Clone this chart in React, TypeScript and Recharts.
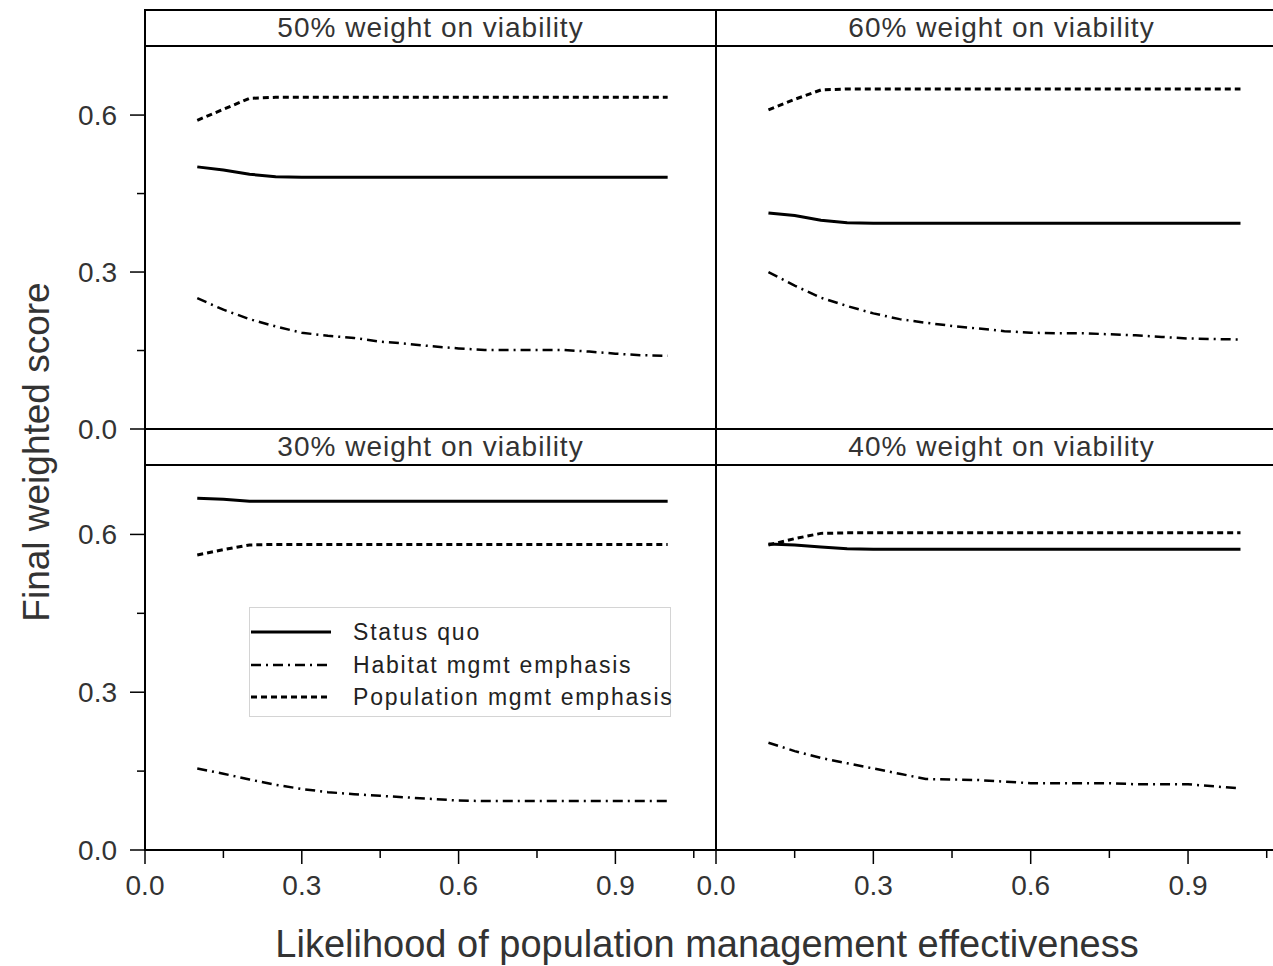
import React from 'react';
import { LineChart, Line, XAxis, YAxis, Legend } from 'recharts';

const xValues = [0.1, 0.15, 0.2, 0.25, 0.3, 0.35, 0.4, 0.45, 0.5, 0.55, 0.6, 0.65, 0.7, 0.75, 0.8, 0.85, 0.9, 0.95, 1.0];

// 50% weight on viability
const status50 = [0.501, 0.495, 0.487, 0.482, 0.481, 0.481, 0.481, 0.481, 0.481, 0.481, 0.481, 0.481, 0.481, 0.481, 0.481, 0.481, 0.481, 0.481, 0.481];
const habitat50 = [0.25, 0.228, 0.21, 0.196, 0.184, 0.178, 0.174, 0.167, 0.163, 0.158, 0.154, 0.151, 0.151, 0.151, 0.151, 0.148, 0.144, 0.141, 0.14];
const population50 = [0.59, 0.611, 0.632, 0.634, 0.634, 0.634, 0.634, 0.634, 0.634, 0.634, 0.634, 0.634, 0.634, 0.634, 0.634, 0.634, 0.634, 0.634, 0.634];

// 60% weight on viability
const status60 = [0.413, 0.408, 0.399, 0.394, 0.393, 0.393, 0.393, 0.393, 0.393, 0.393, 0.393, 0.393, 0.393, 0.393, 0.393, 0.393, 0.393, 0.393, 0.393];
const habitat60 = [0.3, 0.274, 0.251, 0.235, 0.221, 0.21, 0.203, 0.197, 0.192, 0.187, 0.184, 0.183, 0.183, 0.181, 0.179, 0.176, 0.173, 0.172, 0.171];
const population60 = [0.61, 0.63, 0.648, 0.65, 0.65, 0.65, 0.65, 0.65, 0.65, 0.65, 0.65, 0.65, 0.65, 0.65, 0.65, 0.65, 0.65, 0.65, 0.65];

// 30% weight on viability
const status30 = [0.669, 0.667, 0.663, 0.663, 0.663, 0.663, 0.663, 0.663, 0.663, 0.663, 0.663, 0.663, 0.663, 0.663, 0.663, 0.663, 0.663, 0.663, 0.663];
const habitat30 = [0.155, 0.145, 0.134, 0.124, 0.116, 0.11, 0.106, 0.103, 0.1, 0.097, 0.094, 0.093, 0.093, 0.093, 0.093, 0.093, 0.093, 0.093, 0.093];
const population30 = [0.561, 0.571, 0.58, 0.581, 0.581, 0.581, 0.581, 0.581, 0.581, 0.581, 0.581, 0.581, 0.581, 0.581, 0.581, 0.581, 0.581, 0.581, 0.581];

// 40% weight on viability
const status40 = [0.582, 0.58, 0.576, 0.573, 0.572, 0.572, 0.572, 0.572, 0.572, 0.572, 0.572, 0.572, 0.572, 0.572, 0.572, 0.572, 0.572, 0.572, 0.572];
const habitat40 = [0.204, 0.188, 0.175, 0.165, 0.155, 0.145, 0.135, 0.134, 0.133, 0.13, 0.127, 0.127, 0.127, 0.127, 0.125, 0.125, 0.125, 0.121, 0.117];
const population40 = [0.58, 0.592, 0.602, 0.603, 0.603, 0.603, 0.603, 0.603, 0.603, 0.603, 0.603, 0.603, 0.603, 0.603, 0.603, 0.603, 0.603, 0.603, 0.603];

const panelTitles = ['50% weight on viability', '60% weight on viability', '30% weight on viability', '40% weight on viability'];
const seriesNames = ['Status quo', 'Habitat mgmt emphasis', 'Population mgmt emphasis'];
const xMajorTicks = [0, 0.3, 0.6, 0.9];
const xAllTicks = [0, 0.15, 0.3, 0.45, 0.6, 0.75, 0.9, 1.05];
const yMajorTicks = [0, 0.3, 0.6];
const yAllTicks = [0, 0.15, 0.3, 0.45, 0.6];
const xTitle = 'Likelihood of population management effectiveness';
const yTitle = 'Final weighted score';

const X_DOMAIN: [number, number] = [0, 1.0925];
const Y_DOMAIN: [number, number] = [0, 0.732];
const FONT = '"Liberation Sans", Arial, sans-serif';
const TEXT = '#333';

const DASH_STATUS = undefined;
const DASH_HABITAT = '10 5 2 5';
const DASH_POP = '6 4';
const seriesDash = [DASH_STATUS, DASH_HABITAT, DASH_POP];
const seriesWidth = [3, 2.5, 3];

function buildRows(status: number[], habitat: number[], population: number[]) {
  return xValues.map((x, i) => ({ x, status: status[i], habitat: habitat[i], population: population[i] }));
}

const isMajor = (v: number, list: number[]) => list.some((m) => Math.abs(m - v) < 1e-6);

function XTick(props: any) {
  const { x, y, payload } = props;
  const major = isMajor(payload.value, xMajorTicks);
  return (
    <g>
      <line x1={x} x2={x} y1={y} y2={y + (major ? 14 : 8)} stroke="#000" strokeWidth={1.5} />
      {major && (
        <text x={x} y={y + 45} textAnchor="middle" fontSize={28} fontFamily={FONT} fill={TEXT}>
          {payload.value.toFixed(1)}
        </text>
      )}
    </g>
  );
}

function YTick(props: any) {
  const { x, y, payload } = props;
  const major = isMajor(payload.value, yMajorTicks);
  return (
    <g>
      <line x1={x - (major ? 15 : 8)} x2={x} y1={y} y2={y} stroke="#000" strokeWidth={1.5} />
      {major && (
        <text x={x - 28} y={y + 10} textAnchor="end" fontSize={28} fontFamily={FONT} fill={TEXT}>
          {payload.value.toFixed(1)}
        </text>
      )}
    </g>
  );
}

function LegendBox() {
  return (
    <div
      style={{
        width: 422,
        height: 110,
        border: '1px solid #d4d4d4',
        background: '#fff',
        boxSizing: 'border-box',
        position: 'relative',
        fontFamily: FONT,
      }}
    >
      {seriesNames.map((name, i) => (
        <div key={name} style={{ position: 'absolute', left: 0, top: 24 + i * 32.5 - 16, height: 32, width: 422 }}>
          <svg width={82} height={32} style={{ position: 'absolute', left: 0, top: 0 }}>
            <line x1={1} x2={81} y1={16} y2={16} stroke="#000" strokeWidth={seriesWidth[i]} strokeDasharray={seriesDash[i]} />
          </svg>
          <span
            style={{
              position: 'absolute',
              left: 103,
              top: 0,
              lineHeight: '32px',
              fontSize: 23,
              letterSpacing: 1.8,
              color: '#222',
              whiteSpace: 'nowrap',
            }}
          >
            {name}
          </span>
        </div>
      ))}
    </div>
  );
}

function Panel(props: {
  rows: any[];
  left: number;
  top: number;
  width: number;
  height: number;
  showY: boolean;
  showX: boolean;
  legend?: boolean;
}) {
  const { rows, left, top, width, height, showY, showX, legend } = props;
  return (
    <div style={{ position: 'absolute', left, top }}>
      <LineChart width={width} height={height} data={rows} margin={{ top: 0, right: 0, bottom: 0, left: 0 }}>
        <XAxis
          type="number"
          dataKey="x"
          domain={X_DOMAIN}
          ticks={xAllTicks}
          interval={0}
          hide={!showX}
          height={60}
          tickSize={0}
          tickMargin={0}
          tickLine={false}
          axisLine={{ stroke: '#000', strokeWidth: 2 }}
          tick={(p: any) => <XTick {...p} />}
          allowDataOverflow
        />
        <YAxis
          type="number"
          domain={Y_DOMAIN}
          ticks={yAllTicks}
          interval={0}
          hide={!showY}
          width={145}
          tickSize={0}
          tickMargin={0}
          tickLine={false}
          axisLine={{ stroke: '#000', strokeWidth: 2 }}
          tick={(p: any) => <YTick {...p} />}
          allowDataOverflow
        />
        <Line type="linear" dataKey="status" name={seriesNames[0]} stroke="#000" strokeWidth={seriesWidth[0]} dot={false} isAnimationActive={false} />
        <Line type="linear" dataKey="habitat" name={seriesNames[1]} stroke="#000" strokeWidth={seriesWidth[1]} strokeDasharray={DASH_HABITAT} dot={false} isAnimationActive={false} />
        <Line type="linear" dataKey="population" name={seriesNames[2]} stroke="#000" strokeWidth={seriesWidth[2]} strokeDasharray={DASH_POP} dot={false} isAnimationActive={false} />
        {legend && (
          <Legend
            layout="horizontal"
            verticalAlign="middle"
            align="center"
            content={() => <LegendBox />}
            wrapperStyle={{ position: 'absolute', left: 249, top: 142, width: 422, height: 110 }}
          />
        )}
      </LineChart>
    </div>
  );
}

const hLine = (top: number): React.CSSProperties => ({ position: 'absolute', left: 145, top, width: 1200, height: 2, background: '#000' });
const vLine = (left: number): React.CSSProperties => ({ position: 'absolute', left, top: 9, width: 2, height: 842, background: '#000' });

function Strip({ left, top, title }: { left: number; top: number; title: string }) {
  return (
    <div
      style={{
        position: 'absolute',
        left,
        top,
        width: 571,
        height: 36,
        display: 'flex',
        alignItems: 'center',
        justifyContent: 'center',
        fontFamily: FONT,
        fontSize: 28,
        letterSpacing: 1,
        color: TEXT,
        whiteSpace: 'nowrap',
      }}
    >
      {title}
    </div>
  );
}

export default function App() {
  const rows50 = buildRows(status50, habitat50, population50);
  const rows60 = buildRows(status60, habitat60, population60);
  const rows30 = buildRows(status30, habitat30, population30);
  const rows40 = buildRows(status40, habitat40, population40);
  return (
    <div style={{ position: 'relative', width: 1273, height: 966, overflow: 'hidden', background: '#fff' }}>
      <style>{'body{margin:0;} .recharts-surface{overflow:visible;} .recharts-wrapper{overflow:visible;}'}</style>
      <Panel rows={rows50} left={0} top={46} width={716} height={383} showY showX={false} />
      <Panel rows={rows60} left={716} top={46} width={573} height={383} showY={false} showX={false} />
      <Panel rows={rows30} left={0} top={465} width={716} height={445} showY showX legend />
      <Panel rows={rows40} left={716} top={465} width={573} height={445} showY={false} showX />

      <div style={hLine(9)} />
      <div style={hLine(45)} />
      <div style={hLine(428)} />
      <div style={hLine(464)} />
      <div style={vLine(144)} />
      <div style={vLine(715)} />

      <Strip left={145} top={10} title={panelTitles[0]} />
      <Strip left={716} top={10} title={panelTitles[1]} />
      <Strip left={145} top={429} title={panelTitles[2]} />
      <Strip left={716} top={429} title={panelTitles[3]} />

      <div
        style={{
          position: 'absolute',
          left: 707 - 500,
          top: 922,
          width: 1000,
          textAlign: 'center',
          fontFamily: FONT,
          fontSize: 38,
          lineHeight: '44px',
          color: TEXT,
          whiteSpace: 'nowrap',
        }}
      >
        {xTitle}
      </div>
      <div
        style={{
          position: 'absolute',
          left: 37 - 250,
          top: 452 - 22,
          width: 500,
          height: 44,
          lineHeight: '44px',
          textAlign: 'center',
          transform: 'rotate(-90deg)',
          fontFamily: FONT,
          fontSize: 37,
          color: TEXT,
          whiteSpace: 'nowrap',
        }}
      >
        {yTitle}
      </div>
    </div>
  );
}
